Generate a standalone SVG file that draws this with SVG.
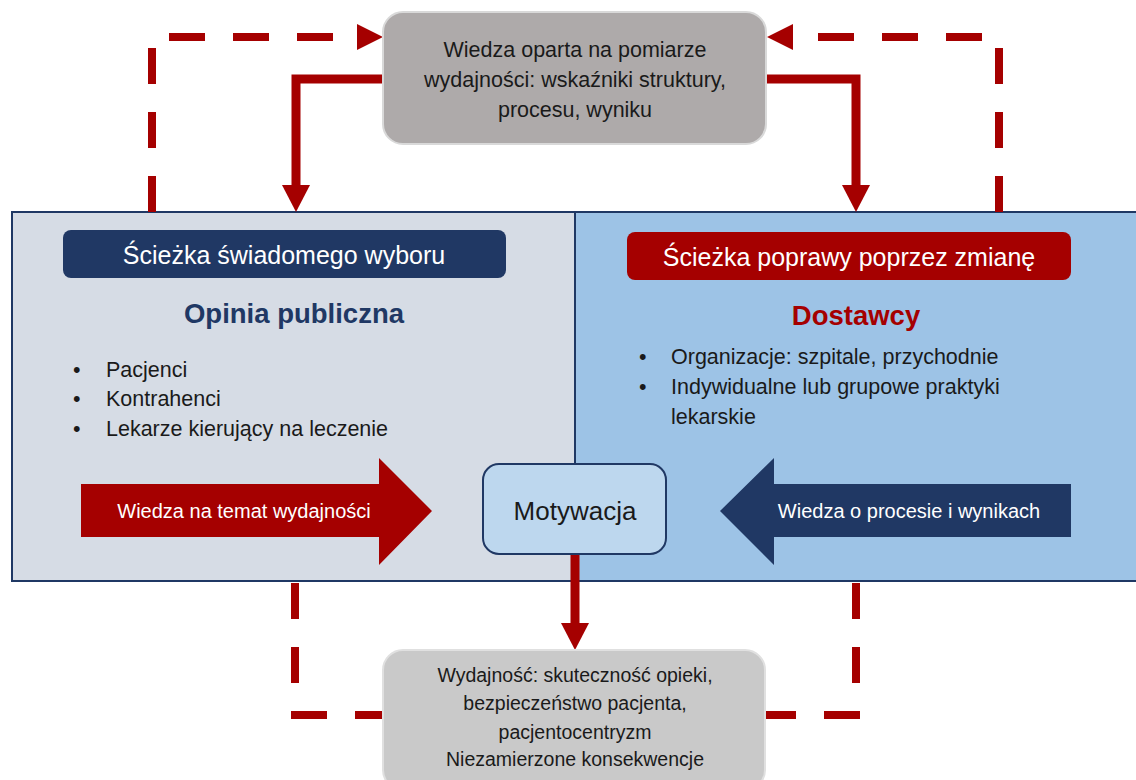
<svg xmlns="http://www.w3.org/2000/svg" width="1136" height="780" viewBox="0 0 1136 780">
<defs>
<style>
text{font-family:"Liberation Sans",Arial,sans-serif}
.c{text-anchor:middle}
.blk{fill:#1a1a1a}
.wht{fill:#ffffff}
.solid{fill:none;stroke:#A50000;stroke-width:9}
.dash{fill:none;stroke:#A50000;stroke-width:8;stroke-dasharray:36 28}
</style>
</defs>
<rect width="1136" height="780" fill="#ffffff"/>

<g id="panel-left">
<rect x="12" y="212" width="563" height="369" fill="#D6DCE5" stroke="#1F3864" stroke-width="2"/>
</g>
<g id="panel-right">
<rect x="575" y="212" width="562" height="369" fill="#9DC3E6" stroke="#1F3864" stroke-width="2"/>
</g>

<g id="connectors">
<!-- solid -->
<polyline class="solid" points="383,79 296,79 296,188"/>
<polygon points="282,185 310,185 296,212" fill="#A50000"/>
<polyline class="solid" points="766,79 856,79 856,188"/>
<polygon points="842,185 870,185 856,212" fill="#A50000"/>
<line class="solid" x1="575" y1="554" x2="575" y2="626"/>
<polygon points="561,623 589,623 575,650" fill="#A50000"/>
<!-- dashed top -->
<polyline class="dash" points="152,212 152,37 357,37"/>
<polygon points="357,24 383,37 357,50" fill="#A50000"/>
<polyline class="dash" points="999,212 999,37 793,37"/>
<polygon points="793,24 767,37 793,50" fill="#A50000"/>
<!-- dashed bottom -->
<polyline class="dash" points="295,583 295,715 383,715"/>
<polyline class="dash" points="856,583 856,715 765,715"/>
</g>

<g id="top-box">
<rect x="383" y="12" width="383" height="132" rx="20" fill="#AEAAAA" stroke="#D9D9D9" stroke-width="2"/>
<text class="c blk" x="575" y="57" font-size="21.5">Wiedza oparta na pomiarze</text>
<text class="c blk" x="575" y="87" font-size="21.5">wydajności: wskaźniki struktury,</text>
<text class="c blk" x="575" y="117" font-size="21.5">procesu, wyniku</text>
</g>

<g id="header-left">
<rect x="63" y="230" width="443" height="48" rx="8" fill="#203864"/>
<text class="c wht" x="284" y="264" font-size="25">Ścieżka świadomego wyboru</text>
</g>
<g id="header-right">
<rect x="627" y="232" width="444" height="48" rx="8" fill="#A50000"/>
<text class="c wht" x="849" y="266" font-size="25">Ścieżka poprawy poprzez zmianę</text>
</g>

<g id="title-left">
<text class="c" x="294" y="323" font-size="27.5" font-weight="bold" fill="#203864">Opinia publiczna</text>
</g>
<g id="title-right">
<text class="c" x="856" y="325" font-size="27.5" font-weight="bold" fill="#A50000">Dostawcy</text>
</g>

<g id="bullets-left">
<text class="blk" x="73" y="377" font-size="21.5">•</text>
<text class="blk" x="106" y="377" font-size="21.5">Pacjenci</text>
<text class="blk" x="73" y="406" font-size="21.5">•</text>
<text class="blk" x="106" y="406" font-size="21.5">Kontrahenci</text>
<text class="blk" x="73" y="436" font-size="21.5">•</text>
<text class="blk" x="106" y="436" font-size="21.5">Lekarze kierujący na leczenie</text>
</g>
<g id="bullets-right">
<text class="blk" x="639" y="364" font-size="21.5">•</text>
<text class="blk" x="671" y="364" font-size="21.5">Organizacje: szpitale, przychodnie</text>
<text class="blk" x="639" y="394" font-size="21.5">•</text>
<text class="blk" x="671" y="394" font-size="21.5">Indywidualne lub grupowe praktyki</text>
<text class="blk" x="671" y="424" font-size="21.5">lekarskie</text>
</g>

<g id="arrow-left">
<polygon points="81,484 379,484 379,458 432,511 379,565 379,537 81,537" fill="#A50000"/>
<text class="c wht" x="244" y="518" font-size="20">Wiedza na temat wydajności</text>
</g>
<g id="arrow-right">
<polygon points="1071,484 774,484 774,458 720,511 774,565 774,537 1071,537" fill="#203864"/>
<text class="c wht" x="909" y="518" font-size="20">Wiedza o procesie i wynikach</text>
</g>

<g id="motywacja">
<rect x="483" y="464" width="183" height="90" rx="16" fill="#BDD7EE" stroke="#203864" stroke-width="2"/>
<text class="c blk" x="575" y="520" font-size="26">Motywacja</text>
</g>

<g id="bottom-box">
<rect x="383" y="650" width="382" height="140" rx="20" fill="#C9C9C9" stroke="#E0E0E0" stroke-width="2"/>
<text class="c blk" x="575" y="682" font-size="19.5">Wydajność: skuteczność opieki,</text>
<text class="c blk" x="575" y="710" font-size="19.5">bezpieczeństwo pacjenta,</text>
<text class="c blk" x="575" y="739" font-size="19.5">pacjentocentryzm</text>
<text class="c blk" x="575" y="766" font-size="19.5">Niezamierzone konsekwencje</text>
</g>
</svg>
